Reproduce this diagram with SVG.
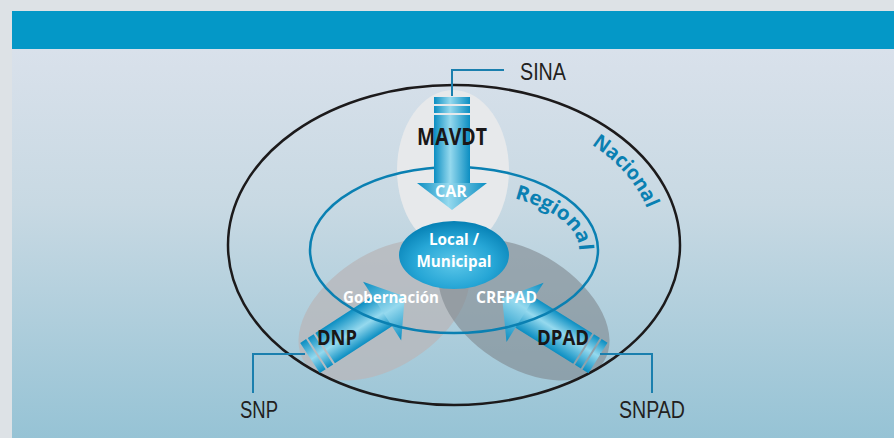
<svg xmlns="http://www.w3.org/2000/svg" width="894" height="438" viewBox="0 0 894 438">
<defs>
<linearGradient id="panel" x1="0" y1="49" x2="0" y2="438" gradientUnits="userSpaceOnUse">
<stop offset="0" stop-color="#d9e1eb"/>
<stop offset="0.4" stop-color="#c8d9e3"/>
<stop offset="1" stop-color="#96c3d5"/>
</linearGradient>
<linearGradient id="ag" x1="0" y1="0" x2="0" y2="1">
<stop offset="0" stop-color="#0b8ec2"/>
<stop offset="0.55" stop-color="#95d9ee"/>
<stop offset="1" stop-color="#0b8ec2"/>
</linearGradient>
<radialGradient id="lg" cx="0.5" cy="0.62" r="0.6">
<stop offset="0" stop-color="#5cc7e9"/>
<stop offset="0.6" stop-color="#26a6d6"/>
<stop offset="1" stop-color="#0782b6"/>
</radialGradient>
<g id="arrow">
<rect x="0" y="-18" width="7" height="36" fill="url(#ag)"/>
<rect x="9" y="-18" width="7" height="36" fill="url(#ag)"/>
<rect x="18" y="-18" width="69" height="36" fill="url(#ag)"/>
<polygon points="86,-35 113,0 86,35" fill="url(#ag)"/>
</g>
<path id="pNac" d="M 254 245 A 200 138 0 0 1 654 245 A 200 138 0 0 1 254 245"/>
<path id="pReg" d="M 329 250 A 125 59 0 0 1 579 250 A 125 59 0 0 1 329 250"/>
</defs>
<style>
.lbl{font-family:"Liberation Sans","Open Sans",sans-serif;font-size:23px;fill:#231f20}
.wb{font-family:"Open Sans","Liberation Sans",sans-serif;font-weight:700;fill:#ffffff;text-anchor:middle}
.kb{font-family:"Open Sans","Liberation Sans",sans-serif;font-weight:700;fill:#1a1718;text-anchor:middle}
.lvl{font-family:"Open Sans","Liberation Sans",sans-serif;font-weight:700;font-size:20px;fill:#0a80b2}
.conn{fill:none;stroke:#1a7fae;stroke-width:2}
</style>
<rect x="0" y="0" width="894" height="438" fill="#dde2e6"/>
<rect x="12" y="11" width="882" height="427" fill="url(#panel)"/>
<rect x="12" y="11" width="882" height="38" fill="#0498c7"/>

<g id="zones">
<ellipse cx="453" cy="170" rx="56" ry="80" fill="#e7e9eb"/>
<ellipse cx="384" cy="310" rx="95" ry="57" transform="rotate(-33 384 310)" fill="#b8b8bb" opacity="0.8"/>
<ellipse cx="524" cy="310" rx="95" ry="57" transform="rotate(33 524 310)" fill="#7e878e" opacity="0.6"/>
</g>

<g id="nacional">
<ellipse cx="454" cy="245" rx="226" ry="160" fill="none" stroke="#1c1a1b" stroke-width="2.5"/>
<text class="lvl"><textPath href="#pNac" startOffset="412" textLength="86" lengthAdjust="spacingAndGlyphs">Nacional</textPath></text>
</g>

<g id="dnp">
<use href="#arrow" transform="translate(310 358) rotate(-33)"/>
<text class="kb" x="337" y="345" font-size="21" textLength="40" lengthAdjust="spacingAndGlyphs">DNP</text>
<text class="wb" x="391" y="303" font-size="16" textLength="96" lengthAdjust="spacingAndGlyphs">Gobernación</text>
</g>

<g id="dpad">
<use href="#arrow" transform="translate(598 358) rotate(212)"/>
<text class="kb" x="563" y="345" font-size="21" textLength="52" lengthAdjust="spacingAndGlyphs">DPAD</text>
<text class="wb" x="506.5" y="303" font-size="16" textLength="61" lengthAdjust="spacingAndGlyphs">CREPAD</text>
</g>

<g id="regional">
<ellipse cx="454" cy="250" rx="144" ry="83" fill="none" stroke="#0a80b2" stroke-width="2.5"/>
<text class="lvl"><textPath href="#pReg" startOffset="210" textLength="89" lengthAdjust="spacingAndGlyphs">Regional</textPath></text>
</g>

<g id="mavdt">
<use href="#arrow" transform="translate(452 97) rotate(90)"/>
<text class="kb" x="452" y="145" font-size="23" textLength="70" lengthAdjust="spacingAndGlyphs">MAVDT</text>
<text class="wb" x="451" y="197" font-size="16" textLength="32" lengthAdjust="spacingAndGlyphs">CAR</text>
</g>

<g id="local">
<ellipse cx="454" cy="255" rx="55" ry="34" fill="url(#lg)"/>
<text class="wb" x="454" y="245" font-size="16" textLength="50" lengthAdjust="spacingAndGlyphs">Local /</text>
<text class="wb" x="454" y="267" font-size="16" textLength="75" lengthAdjust="spacingAndGlyphs">Municipal</text>
</g>

<g id="connectors">
<polyline class="conn" points="452,96 452,70 504,70"/>
<polyline class="conn" points="305,354 253,354 253,393"/>
<polyline class="conn" points="600,354 652,354 652,393"/>
</g>

<g id="sina"><text class="lbl" x="520" y="80" textLength="46" lengthAdjust="spacingAndGlyphs">SINA</text></g>
<g id="snp"><text class="lbl" x="240" y="418" textLength="38" lengthAdjust="spacingAndGlyphs">SNP</text></g>
<g id="snpad"><text class="lbl" x="619" y="418" textLength="66" lengthAdjust="spacingAndGlyphs">SNPAD</text></g>
</svg>
